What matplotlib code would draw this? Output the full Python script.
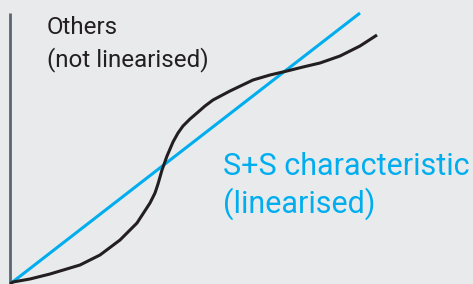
import numpy as np
import matplotlib
matplotlib.use("Agg")
import matplotlib.pyplot as plt

# curve of the "others" sensor (not linearised), x / y in drawing units
others_x = [0, 3, 20, 40, 60, 70, 90, 110, 127, 140, 145, 148, 152, 157, 163, 168, 173, 180, 187,
            195, 203, 220, 243, 260, 277, 293, 310, 330, 350, 367]
others_y = [0, 2, 5, 10, 16, 19, 29, 44, 61, 81, 91, 100, 114, 128, 142, 151, 158, 165, 171,
            178, 184, 193, 204, 209, 213, 217, 221, 228, 238, 249]

# S+S characteristic (linearised)
ss_x = [0, 350]
ss_y = [0, 271]

bg = "#e9eaec"
blue = "#00aeef"
dark = "#231f20"

fig = plt.figure(figsize=(4.73, 2.84), dpi=100, facecolor=bg)
ax = fig.add_axes([0, 0, 1, 1])
ax.set_facecolor(bg)
ax.set_xlim(-10, 463)
ax.set_ylim(0, 284)
for s in ax.spines.values():
    s.set_visible(False)
ax.set_xticks([])
ax.set_yticks([])

# left axis line
ax.plot([0, 0], [0, 271], color="#5b6670", lw=2, solid_capstyle="butt", clip_on=False)

ax.plot(ss_x, ss_y, color=blue, lw=2.2, solid_capstyle="butt", clip_on=False)
ax.plot(others_x, others_y, color=dark, lw=2.2, solid_capstyle="butt",
        solid_joinstyle="round", clip_on=False)

txt = dict(family="Roboto", va="baseline")
ax.text(37, 250, "Others", fontsize=17.4, color=dark, **txt)
ax.text(37, 218, "(not linearised)", fontsize=17.4, color=dark, **txt)
ax.text(213, 109, "S+S characteristic", fontsize=22, color=blue, **txt)
ax.text(213, 71, "(linearised)", fontsize=22, color=blue, **txt)

fig.savefig("out.png", dpi=100, facecolor=bg)
